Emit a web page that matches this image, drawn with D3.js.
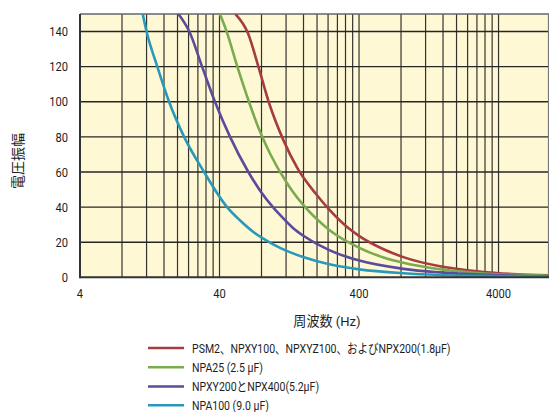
<!DOCTYPE html>
<html><head><meta charset="utf-8">
<script src="https://cdn.jsdelivr.net/npm/d3@7"></script>
<style>
html,body{margin:0;padding:0;background:#fff;}
svg{display:block;}
text{font-family:Roboto,"Noto Sans CJK JP",sans-serif;fill:#1e1e1e;}
</style></head>
<body>
<script>
// ---- data (frequency Hz, voltage amplitude) ----
const seriesNames = [
  "PSM2、NPXY100、NPXYZ100、およびNPX200(1.8µF)",
  "NPA25 (2.5 µF)",
  "NPXY200とNPX400(5.2µF)",
  "NPA100 (9.0 µF)"
];
const seriesColors = ["#a63c40", "#7aab4c", "#5a4b9b", "#2899ba"];
const redFreq   = [52, 64, 76, 90, 115, 145, 194, 245, 330, 402, 600, 831, 1520, 3000, 9200];
const redVals   = [150, 139, 120, 100, 78, 62, 48, 38.5, 28.5, 23.5, 16, 11.5, 6.3, 3.2, 1.1];
const greenFreq = [40.3, 45, 53.7, 65, 79, 92, 121, 135, 161, 245, 402, 600, 831, 1520, 3000, 9200];
const greenVals = [150, 140, 120, 100, 82, 70.5, 54, 48.5, 40.8, 27, 16.8, 11.3, 8.3, 4.6, 2.3, 0.9];
const purpleFreq = [20.3, 24.3, 30, 37.1, 47.6, 64.4, 78, 96.6, 108.6, 135, 161, 245, 402, 831, 1520, 3000, 9200];
const purpleVals = [150, 140, 120, 100, 80, 60, 49.5, 40, 35.5, 28, 23.5, 15.5, 9.5, 4.8, 2.8, 1.5, 0.6];
const tealFreq  = [11.26, 12, 14.33, 17.4, 22.3, 31, 45.3, 56, 70, 92, 108.6, 161, 245, 402, 831, 1520, 3000, 9200];
const tealVals  = [150, 140, 120, 100, 80, 60, 40, 32.5, 25.8, 19.8, 16.8, 11.4, 7.4, 4.5, 2.3, 1.3, 0.8, 0.4];
const xTickLabels = [4, 40, 400, 4000];
const yTicks = [0, 20, 40, 60, 80, 100, 120, 140];
const xTitle = "周波数 (Hz)";
const yTitle = "電圧振幅";

const seriesFreqs = [redFreq, greenFreq, purpleFreq, tealFreq];
const seriesVals = [redVals, greenVals, purpleVals, tealVals];

// ---- layout ----
const W = 549, H = 412;
const pL = 80, pR = 549, pT = 14, pB = 277.3;

const svg = d3.select("body").append("svg").attr("width", W).attr("height", H);

const x = d3.scaleLog().domain([4, 9200]).range([pL, pR]);
const y = d3.scaleLinear().domain([0, 150]).range([pB, pT]);

function txt(g, tx, ty, s, anchor, size, sx) {
  return g.append("text")
    .attr("transform", `translate(${tx},${ty}) scale(${sx},1)`)
    .attr("text-anchor", anchor).attr("font-size", size).attr("dy", "0.36em").text(s);
}

// background
svg.append("rect").attr("x", pL).attr("y", pT).attr("width", pR - pL).attr("height", pB - pT)
  .attr("fill", "#fef8d5");

// vertical grid lines (log grid, base 4 decades)
const vGrid = [];
[4, 40, 400].forEach(d => { for (let m = 2; m <= 10; m++) vGrid.push(d * m); });
svg.append("g").selectAll("line").data(vGrid).join("line")
  .attr("x1", d => x(d)).attr("x2", d => x(d))
  .attr("y1", pT).attr("y2", pB)
  .attr("stroke", "#353330").attr("stroke-width", 1.2);

// horizontal grid lines
svg.append("g").selectAll("line").data(yTicks.filter(d => d > 0)).join("line")
  .attr("x1", pL).attr("x2", pR)
  .attr("y1", d => y(d)).attr("y2", d => y(d))
  .attr("stroke", "#262626").attr("stroke-width", 1.4);

// frame
svg.append("line").attr("x1", pL).attr("x2", pR).attr("y1", pT).attr("y2", pT)
  .attr("stroke", "#666").attr("stroke-width", 1.5);
svg.append("line").attr("x1", pR - 0.5).attr("x2", pR - 0.5).attr("y1", pT).attr("y2", pB)
  .attr("stroke", "#777").attr("stroke-width", 1.2);

// curves
svg.append("clipPath").attr("id", "clip").append("rect")
  .attr("x", pL).attr("y", pT).attr("width", pR - pL).attr("height", pB - pT);
const line = d3.line().x(d => x(d[0])).y(d => y(d[1])).curve(d3.curveMonotoneX);
const gCurves = svg.append("g").attr("clip-path", "url(#clip)");
seriesFreqs.forEach((fs, i) => {
  const pts = fs.map((f, j) => [f, seriesVals[i][j]]);
  gCurves.append("path").datum(pts).attr("d", line)
    .attr("fill", "none").attr("stroke", seriesColors[i]).attr("stroke-width", 2.6)
    .attr("stroke-linejoin", "round");
});

// axes lines
svg.append("line").attr("x1", pL).attr("x2", pL).attr("y1", pT).attr("y2", pB + 1)
  .attr("stroke", "#333").attr("stroke-width", 2);
svg.append("line").attr("x1", pL).attr("x2", pR).attr("y1", pB).attr("y2", pB)
  .attr("stroke", "#333").attr("stroke-width", 2);

// y tick labels
const gy = svg.append("g");
yTicks.forEach(d => txt(gy, 68, y(d), d, "end", 13, 0.86));

// x tick labels
const gx = svg.append("g");
xTickLabels.forEach(d => txt(gx, x(d), 293, d, "middle", 13, 0.86));

// axis titles
txt(svg, 327, 321.5, xTitle, "middle", 13.5, 0.97);
svg.append("text")
  .attr("transform", "translate(18,161) rotate(-90)")
  .attr("text-anchor", "middle").attr("dy", "0.36em").attr("font-size", 14).text(yTitle);

// legend
const legY = [348, 367.2, 386.4, 405.2];
const leg = svg.append("g");
seriesNames.forEach((name, i) => {
  leg.append("line").attr("x1", 148).attr("x2", 184).attr("y1", legY[i]).attr("y2", legY[i])
    .attr("stroke", seriesColors[i]).attr("stroke-width", 2.5);
  txt(leg, 192, legY[i], name, "start", 13, 0.81);
});
</script>
</body></html>
